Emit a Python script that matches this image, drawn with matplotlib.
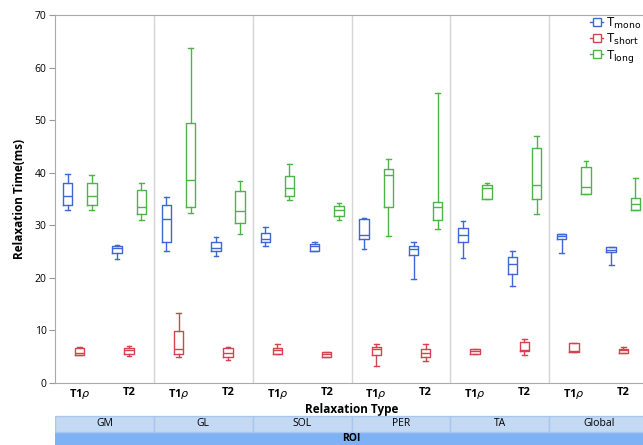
import matplotlib.pyplot as plt
from matplotlib.lines import Line2D
from matplotlib.patches import Rectangle

plt.rcParams['font.family'] = ['Open Sans', 'DejaVu Sans']

rois = ['GM', 'GL', 'SOL', 'PER', 'TA', 'Global']
relax_types = [r'T1$\rho$', 'T2']

# (whisker low, q1, median, q3, whisker high) per ROI x relaxation type
t_mono = [
    (32.9, 33.8, 35.5, 38.1, 39.7), (23.6, 24.7, 25.7, 26.1, 26.3),
    (25.1, 26.9, 31.2, 33.9, 35.3), (24.1, 25.1, 25.7, 26.8, 27.7),
    (26.1, 26.8, 27.3, 28.5, 29.7), (25.2, 25.2, 26.1, 26.5, 26.8),
    (25.4, 27.3, 28.2, 31.2, 31.4), (19.8, 24.3, 25.4, 26.1, 26.8),
    (23.8, 26.8, 28.2, 29.4, 30.8), (18.4, 20.8, 22.7, 24.0, 25.1),
    (24.8, 27.4, 28.0, 28.3, 28.4), (22.4, 24.9, 25.3, 25.8, 25.9),
]
t_short = [
    (5.4, 5.4, 5.7, 6.7, 6.9), (5.2, 5.6, 6.2, 6.7, 7.0),
    (5.0, 5.6, 6.4, 9.8, 13.4), (4.3, 5.0, 5.75, 6.6, 6.8),
    (5.6, 5.6, 6.2, 6.7, 7.5), (5.0, 5.0, 5.5, 5.9, 5.9),
    (3.3, 5.4, 6.4, 6.8, 7.5), (4.2, 5.0, 5.75, 6.4, 7.5),
    (5.6, 5.6, 6.1, 6.5, 6.5), (5.4, 6.1, 6.3, 7.8, 8.3),
    (5.9, 5.9, 6.1, 7.6, 7.7), (5.75, 5.75, 6.3, 6.5, 6.8),
]
t_long = [
    (32.9, 33.8, 35.6, 38.0, 39.6), (31.1, 32.1, 33.5, 36.7, 38.1),
    (32.3, 33.5, 38.7, 49.4, 63.7), (28.4, 30.4, 32.7, 36.5, 38.4),
    (34.8, 35.5, 37.0, 39.3, 41.7), (31.1, 31.7, 32.9, 33.7, 34.3),
    (28.0, 33.4, 39.6, 40.7, 42.6), (29.2, 31.1, 33.4, 34.4, 55.2),
    (35.0, 35.0, 37.0, 37.7, 38.1), (32.2, 35.0, 37.6, 44.7, 47.0),
    (35.9, 35.9, 37.2, 41.0, 42.3), (33.0, 33.0, 34.1, 35.1, 39.0),
]

series = [
    ('mono', t_mono, '#3f66d4', -0.245),
    ('short', t_short, '#d4434f', 0.0),
    ('long', t_long, '#4db548', 0.245),
]

W, H = 643, 445
fig = plt.figure(figsize=(W / 100, H / 100), dpi=100)
ax_left, ax_right, ax_top, ax_bot = 55, 648, 15, 383
ax = fig.add_axes([ax_left / W, 1 - ax_bot / H, (ax_right - ax_left) / W, (ax_bot - ax_top) / H])

n_cat = len(rois) * len(relax_types)
centers = [i + 0.5 for i in range(n_cat)]

for name, vals, color, off in series:
    stats = [dict(whislo=v[0], q1=v[1], med=v[2], q3=v[3], whishi=v[4]) for v in vals]
    lp = dict(color=color, linewidth=1.0)
    ax.bxp(stats, positions=[c + off for c in centers], widths=0.19,
           showfliers=False, manage_ticks=False,
           boxprops=lp, whiskerprops=lp, capprops=lp, medianprops=lp)

# panel separators between ROIs
for k in range(1, len(rois)):
    ax.axvline(2 * k, color='#d5d5d5', linewidth=1.0, zorder=0)

ax.set_xlim(0, n_cat)
ax.set_ylim(0, 70)
ax.set_yticks(range(0, 71, 10))
ax.set_xticks(centers)
ax.set_xticklabels(relax_types * len(rois), fontweight='bold', fontsize=8)
ax.tick_params(axis='x', length=0, pad=3)
ax.tick_params(axis='y', length=4, color='#999999', labelsize=7.5, pad=2)
for s in ['left', 'top', 'bottom']:
    ax.spines[s].set_color('#aaaaaa')
ax.spines['right'].set_visible(False)
ax.set_ylabel('Relaxation Time(ms)', fontweight='bold', fontsize=8.5, labelpad=6)
ax.set_xlabel('Relaxation Type', fontweight='bold', fontsize=8.5, labelpad=1)

# ROI header strip under the axis
strip = fig.add_axes([ax_left / W, 0, (ax_right - ax_left) / W, 30 / H])
strip.set_xlim(0, n_cat)
strip.set_ylim(0, 30)
strip.axis('off')
strip.add_patch(Rectangle((0, 0), n_cat, 13.5, facecolor='#7fb2f4', edgecolor='none'))
for k, roi in enumerate(rois):
    strip.add_patch(Rectangle((2 * k, 13.5), 2, 16, facecolor='#c4d9f2',
                              edgecolor='#a9c7ee', linewidth=1.0))
    strip.text(2 * k + 1, 21.5, roi, ha='center', va='center', fontsize=7.5)
strip.text(n_cat / 2, 6.5, 'ROI', ha='center', va='center', fontsize=7.5, fontweight='bold')

handles = [Line2D([0], [0], color=c, marker='s', markersize=5.5, markerfacecolor='white',
                  markeredgecolor=c, linewidth=1.0) for _, _, c, _ in series]
labels = [r'T$_{\mathrm{mono}}$', r'T$_{\mathrm{short}}$', r'T$_{\mathrm{long}}$']
fig.legend(handles, labels, loc='upper right', bbox_to_anchor=(641 / W, 1 - 16 / H),
           frameon=False, fontsize=9.5, handlelength=1.0, handletextpad=0.2,
           labelspacing=0.05, borderaxespad=0, borderpad=0)

fig.savefig('out.png', dpi=100)
